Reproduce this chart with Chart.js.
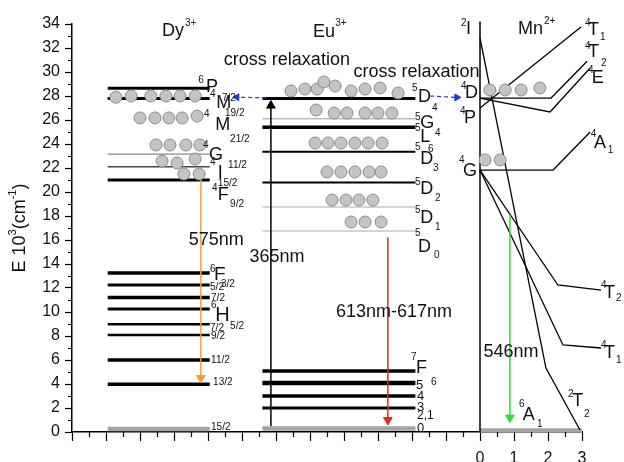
<!DOCTYPE html>
<html><head><meta charset="utf-8">
<script src="https://cdn.jsdelivr.net/npm/chart.js@4"></script>
<style>html,body{margin:0;padding:0;background:#fff}canvas{display:block}</style>
</head><body>
<canvas id="c" width="624" height="462"></canvas>
<script>
/* energy level diagram Dy3+ / Eu3+ / Mn2+ , E in 10^3 cm^-1 */
const FONT = '"Liberation Sans", Arial, sans-serif';

/* ---- data ---- */
const yTicks = [0, 2, 4, 6, 8, 10, 12, 14, 16, 18, 20, 22, 24, 26, 28, 30, 32, 34];
const xTickLabels = [0, 1, 2, 3];

const dyLevels = [28.65, 27.8, 23.15, 22.1, 21.0, 13.25, 12.25, 11.2, 10.25, 8.97, 8.08, 6.0, 3.97];
const dyGround = 0.25;
const euLevels = [27.8, 26.1, 25.4, 23.35, 20.8, 18.75, 16.75];
const euF = [5.08, 4.08, 3.0, 2.0];
const euGround = 0.3;
const mnGround = 0.15;
const dyCols = [-10.95, -7.95];
const euCols = [-6.4, -1.9];
const mnCols = [0, 3];

const mn4T1 = [[0, 27.0], [2.97, 33.75]];
const mn4T2 = [[0, 27.83], [2.09, 27.83], [3.15, 30.9]];
const mn4E = [[0, 27.83], [2.06, 26.67], [3.24, 30.33]];
const mn2T2 = [[0, 32.83], [1.94, 5.33], [2.94, 0.17]];
const mn4A1 = [[0, 21.83], [2.15, 21.83], [3.24, 25.0]];
const mn4T2b = [[0, 21.83], [2.29, 12.25], [3.56, 11.83]];
const mn4T1b = [[0, 21.83], [2.44, 7.25], [3.56, 7.0]];
const mnAxis = [[0, 0], [0, 34.2]];

const dyDots = [[-10.71, 27.9], [-10.26, 28.0], [-9.68, 28.0], [-9.24, 28.0], [-8.82, 28.0], [-8.38, 28.0],
  [-10.0, 26.17], [-9.56, 26.17], [-9.15, 26.17], [-8.76, 26.17], [-8.32, 26.33],
  [-9.53, 23.92], [-9.12, 23.92], [-8.65, 23.92], [-8.24, 23.92],
  [-9.35, 22.58], [-8.91, 22.42], [-8.38, 22.75],
  [-8.71, 21.5], [-8.26, 21.5]];
const euDots = [[-5.56, 28.42], [-5.15, 28.58], [-4.79, 28.58], [-4.59, 29.17], [-4.26, 28.83], [-3.79, 28.42], [-3.38, 28.58], [-2.94, 28.67], [-2.41, 28.25],
  [-4.82, 26.83], [-4.29, 26.58], [-3.91, 26.58], [-3.38, 26.58], [-3.0, 26.58], [-2.59, 26.58],
  [-4.85, 24.08], [-4.47, 24.08], [-4.09, 24.08], [-3.68, 24.08], [-3.29, 24.08], [-2.88, 24.08],
  [-4.5, 21.67], [-4.09, 21.67], [-3.68, 21.67], [-3.26, 21.67], [-2.91, 21.67],
  [-4.35, 19.33], [-3.94, 19.33], [-3.56, 19.33], [-3.15, 19.33],
  [-3.79, 17.5], [-3.38, 17.5], [-2.91, 17.5]];
const mnDots = [[0.29, 28.5], [0.74, 28.5], [1.21, 28.5], [1.76, 28.67], [0.15, 22.67], [0.59, 22.67]];

const arrow575 = [[-8.21, 21.0], [-8.21, 4.5]];
const arrow365 = [[-6.15, 0.5], [-6.15, 27.2]];
const arrow613 = [[-2.71, 16.2], [-2.71, 1.0]];
const arrow546 = [[0.88, 18.1], [0.88, 1.2]];
const crossDy = [[-6.29, 27.85], [-7.15, 27.9]];
const crossMn = [[-1.47, 28.0], [-0.68, 27.88]];

/* ---- styles ---- */
const dyWidth = [3, 3, 1.2, 1.5, 3, 3.5, 3, 3.5, 3, 2.5, 2.5, 3.5, 3.5];
const dyColor = ['#000', '#000', '#888', '#444', '#000', '#000', '#000', '#000', '#000', '#000', '#000', '#000', '#000'];
const euWidth = [3, 1, 3.5, 2, 2, 1, 1];
const euColor = ['#000', '#999', '#000', '#000', '#000', '#aaa', '#aaa'];
const euFWidth = [3.5, 4.5, 3.5, 3];

/* ---- text labels: [text, x, E, size, align] ---- */
const texts = [
  ['Dy', -9.35, 33.4, 18], ['3+', -8.68, 34.1, 10],
  ['Eu', -4.91, 33.33, 18], ['3+', -4.26, 34.08, 10],
  ['Mn', 1.12, 33.58, 18], ['2+', 1.88, 34.25, 10],
  ['6', -8.29, 29.33, 10], ['P', -8.06, 28.75, 18], ['7/2', -7.59, 27.83, 10],
  ['4', -7.94, 28.17, 10], ['M', -7.76, 27.42, 18], ['19/2', -7.5, 26.58, 10],
  ['4', -8.12, 26.5, 10], ['M', -7.79, 25.58, 18], ['21/2', -7.35, 24.42, 10],
  ['4', -8.15, 23.92, 10], ['G', -7.97, 23.08, 18], ['11/2', -7.41, 22.25, 10],
  ['4', -7.94, 22.5, 10], ['I', -7.71, 21.58, 18], ['15/2', -7.71, 20.75, 10],
  ['4', -7.88, 20.33, 10], ['F', -7.71, 19.75, 18], ['9/2', -7.35, 19.0, 10],
  ['6', -7.94, 13.58, 10], ['F', -7.82, 13.08, 19],
  ['5/2', -7.94, 12.08, 10], ['3/2', -7.62, 12.33, 10],
  ['7/2', -7.91, 11.17, 10],
  ['6', -7.91, 10.58, 10], ['H', -7.79, 9.67, 20],
  ['7/2', -7.94, 8.67, 10], ['5/2', -7.35, 8.83, 10],
  ['9/2', -7.91, 8.0, 10],
  ['11/2', -7.91, 6.0, 10],
  ['13/2', -7.85, 4.17, 10],
  ['15/2', -7.91, 0.42, 10],
  ['575nm', -7.76, 16.0, 18, 'center'],
  ['cross relaxation', -5.68, 31.0, 18, 'center'],
  ['cross relaxation', -1.87, 30.0, 18, 'center'],
  ['5', -2.0, 28.67, 10], ['D', -1.82, 27.92, 18], ['4', -1.41, 27.0, 10],
  ['5', -1.91, 26.25, 10], ['G', -1.76, 25.75, 18], ['4', -1.32, 24.92, 10],
  ['5', -1.91, 25.33, 10], ['L', -1.76, 24.58, 18], ['6', -1.53, 23.58, 10],
  ['5', -1.91, 23.75, 10], ['D', -1.76, 22.75, 18], ['3', -1.38, 22.0, 10],
  ['5', -1.91, 20.83, 10], ['D', -1.76, 20.25, 18], ['2', -1.32, 19.5, 10],
  ['5', -1.91, 18.5, 10], ['D', -1.76, 17.83, 18], ['1', -1.32, 17.08, 10],
  ['5', -1.91, 16.58, 10], ['D', -1.82, 15.42, 18], ['0', -1.35, 14.75, 10],
  ['7', -2.03, 6.25, 10], ['F', -1.88, 5.33, 18], ['6', -1.44, 4.17, 10],
  ['5', -1.88, 3.92, 13], ['4', -1.85, 3.0, 13], ['3', -1.85, 2.08, 13], ['2,1', -1.85, 1.33, 12], ['0', -1.85, 0.33, 13],
  ['365nm', -5.97, 14.58, 18, 'center'],
  ['613nm-617nm', -2.53, 10.0, 18, 'center'],
  ['2', -0.56, 34.08, 10], ['I', -0.41, 33.58, 18],
  ['4', -0.56, 28.83, 10], ['D', -0.44, 28.25, 18],
  ['4', -0.59, 26.75, 10], ['P', -0.47, 26.17, 18],
  ['4', -0.62, 22.67, 10], ['G', -0.5, 21.75, 18],
  ['4', 3.09, 34.08, 10], ['T', 3.18, 33.5, 18], ['1', 3.53, 32.92, 10],
  ['4', 3.09, 32.17, 10], ['T', 3.18, 31.67, 18], ['2', 3.56, 30.75, 10],
  ['4', 3.18, 30.17, 10], ['E', 3.29, 29.5, 18],
  ['4', 3.26, 24.83, 10], ['A', 3.35, 24.08, 18], ['1', 3.76, 23.5, 10],
  ['4', 3.56, 12.25, 10], ['T', 3.65, 11.58, 18], ['2', 4.0, 11.17, 10],
  ['4', 3.56, 7.25, 10], ['T', 3.65, 6.58, 18], ['1', 4.0, 6.0, 10],
  ['546nm', 0.91, 6.67, 18, 'center'],
  ['6', 1.15, 2.33, 10], ['A', 1.26, 1.42, 18], ['1', 1.68, 0.67, 10],
  ['2', 2.59, 3.17, 10], ['T', 2.71, 2.58, 18], ['2', 3.06, 1.5, 10],
];

/* ---- datasets ---- */
const pts = a => a.map(([x, y]) => ({ x, y }));
const level = (v, cols, w, c) => ({
  data: [{ x: cols[0], y: v }, { x: cols[1], y: v }],
  showLine: true, borderColor: c, borderWidth: w, pointRadius: 0, order: 3
});
const curve = (a, w, c) => ({ data: pts(a), showLine: true, borderColor: c || '#000', borderWidth: w || 1.3, pointRadius: 0, order: 2 });
const arrow = (a, c, rot, dash) => ({
  data: pts(a), showLine: true, borderColor: c, borderWidth: dash ? 1.2 : 1.5, borderDash: dash || [],
  pointStyle: 'triangle', pointRadius: [0, dash ? 4 : 5], pointRotation: [0, rot],
  pointBackgroundColor: c, pointBorderColor: c, pointBorderWidth: 1, order: 1
});

const datasets = [
  { data: pts([...dyDots, ...euDots, ...mnDots]), pointRadius: 6, pointBackgroundColor: '#c4c4c4', pointBorderColor: '#8a8a8a', pointBorderWidth: 1, order: 0 },
  ...dyLevels.map((v, i) => level(v, dyCols, dyWidth[i], dyColor[i])),
  ...euLevels.map((v, i) => level(v, euCols, euWidth[i], euColor[i])),
  ...euF.map((v, i) => level(v, euCols, euFWidth[i], '#000')),
  level(dyGround, dyCols, 4.5, '#a4a4a4'),
  level(euGround, euCols, 4.5, '#a4a4a4'),
  level(mnGround, mnCols, 4, '#a4a4a4'),
  curve(mnAxis, 1.5), curve(mn4T1), curve(mn4T2), curve(mn4E), curve(mn2T2),
  curve(mn4A1), curve(mn4T2b), curve(mn4T1b),
  arrow(arrow575, '#f5a030', 180),
  arrow(arrow365, '#000', 0),
  arrow(arrow613, '#e22a20', 180),
  arrow(arrow546, '#2ee02e', 180),
  arrow(crossDy, '#2838d0', 270, [4, 3]),
  arrow(crossMn, '#2838d0', 90, [4, 3]),
].map(d => Object.assign({ clip: false }, d));

/* ---- minor ticks, y title, labels ---- */
const annot = {
  id: 'annot',
  afterDatasetsDraw(chart) {
    const { ctx, scales: { x, y } } = chart;
    ctx.save();
    ctx.strokeStyle = '#000';
    ctx.lineWidth = 1.2;
    ctx.beginPath();
    for (let v = -11.5; v < 3; v += 1) {
      const px = Math.round(x.getPixelForValue(v)) + 0.5;
      ctx.moveTo(px, y.bottom); ctx.lineTo(px, y.bottom + 5);
    }
    for (let v = 1; v < 34; v += 2) {
      const py = Math.round(y.getPixelForValue(v)) + 0.5;
      ctx.moveTo(x.left - 4, py); ctx.lineTo(x.left, py);
    }
    ctx.stroke();

    ctx.fillStyle = '#111';
    ctx.textBaseline = 'middle';
    texts.forEach(([t, xv, yv, size, align]) => {
      ctx.font = size + 'px ' + FONT;
      ctx.textAlign = align || 'left';
      ctx.fillText(t, x.getPixelForValue(xv), y.getPixelForValue(yv));
    });

    // y title E 10^3(cm^-1)
    const parts = [['E 10', 18, 0], ['3', 11, -7], ['(cm', 18, 0], ['-1', 11, -7], [')', 18, 0]];
    ctx.translate(20, (y.top + y.bottom) / 2);
    ctx.rotate(-Math.PI / 2);
    ctx.textAlign = 'left';
    let w = 0;
    parts.forEach(p => { ctx.font = p[1] + 'px ' + FONT; w += ctx.measureText(p[0]).width; });
    let cx = -w / 2;
    parts.forEach(p => {
      ctx.font = p[1] + 'px ' + FONT;
      ctx.fillText(p[0], cx, p[2]);
      cx += ctx.measureText(p[0]).width;
    });
    ctx.restore();
  }
};

new Chart(document.getElementById('c'), {
  type: 'scatter',
  data: { datasets },
  options: {
    responsive: false,
    animation: false,
    devicePixelRatio: 1,
    events: [],
    layout: { padding: { top: 24, right: 42, left: 0, bottom: 0 } },
    plugins: { legend: { display: false }, tooltip: { enabled: false } },
    scales: {
      x: {
        type: 'linear', min: -12, max: 3,
        afterFit: s => { s.height = 30; },
        afterBuildTicks: s => { s.ticks = s.ticks.filter(t => Number.isInteger(t.value)); },
        ticks: {
          stepSize: 1, autoSkip: false, maxRotation: 0, padding: 8, color: '#111',
          font: { size: 16, family: FONT },
          callback: v => xTickLabels.includes(v) ? String(v) : ''
        },
        grid: { drawOnChartArea: false, tickLength: 9, tickColor: '#000', tickWidth: 1.2 },
        border: { color: '#000', width: 1.5 }
      },
      y: {
        type: 'linear', min: 0, max: 34,
        afterFit: s => { s.width = 72; },
        afterBuildTicks: s => { s.ticks = yTicks.map(v => ({ value: v })); },
        ticks: { stepSize: 2, padding: 5, color: '#111', font: { size: 16, family: FONT } },
        grid: { drawOnChartArea: false, tickLength: 7, tickColor: '#000', tickWidth: 1.2 },
        border: { color: '#000', width: 1.5 }
      }
    }
  },
  plugins: [annot]
});
</script>
</body></html>
